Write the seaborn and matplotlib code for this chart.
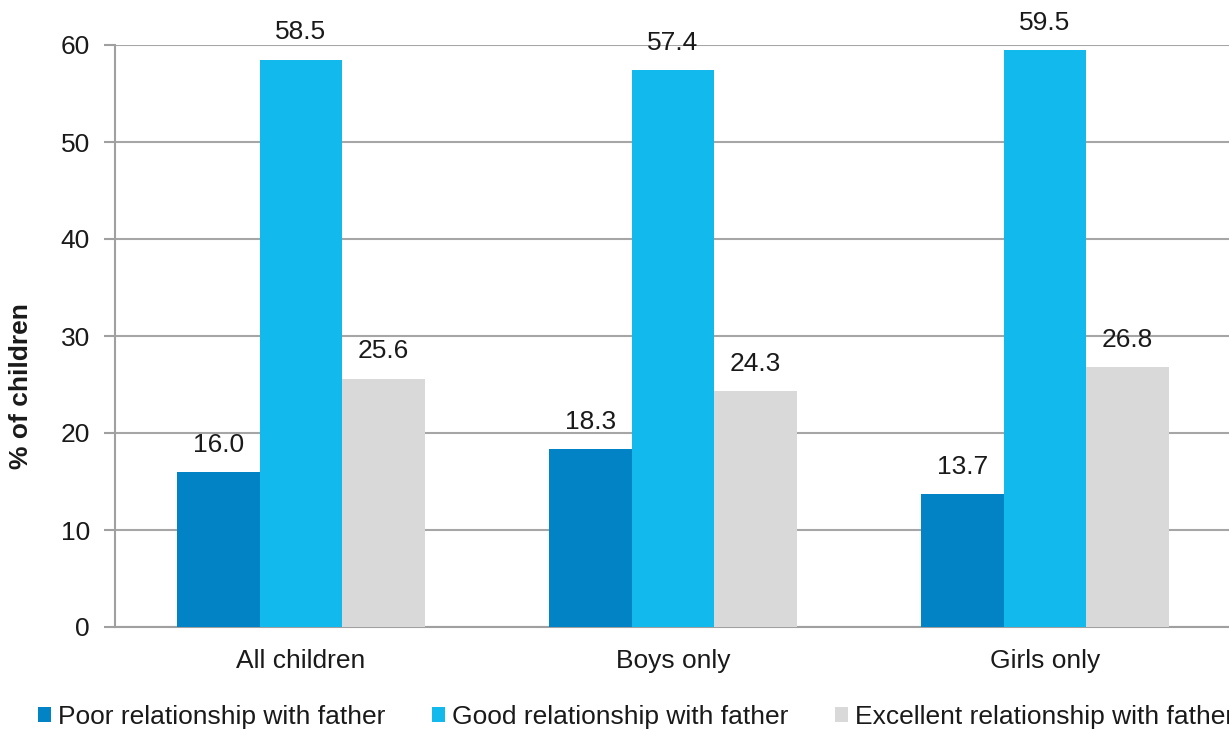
import pandas as pd
import matplotlib
matplotlib.use('Agg')
import matplotlib.pyplot as plt
import seaborn as sns
from matplotlib.patches import Patch

# data
groups = ['All children', 'Boys only', 'Girls only']
series = ['Poor relationship with father', 'Good relationship with father',
          'Excellent relationship with father']
poor = [16.0, 18.3, 13.7]
good = [58.5, 57.4, 59.5]
excellent = [25.6, 24.3, 26.8]
colors = ['#0283C6', '#11B9EC', '#D9D9D9']

rows = []
for name, vals in zip(series, [poor, good, excellent]):
    for g, v in zip(groups, vals):
        rows.append({'group': g, 'series': name, 'value': v})
df = pd.DataFrame(rows)

sns.set_style('white')
plt.rcParams['font.family'] = ['Liberation Sans', 'DejaVu Sans']
fs = 19

fig = plt.figure(figsize=(12.29, 7.29), dpi=100)
ax = fig.add_axes([115 / 1229, 102 / 729, 1116 / 1229, 582 / 729])

sns.barplot(data=df, x='group', y='value', hue='series', order=groups,
            hue_order=series, palette=colors, width=0.667, gap=0,
            saturation=1, errorbar=None, legend=False, ax=ax, zorder=3,
            linewidth=0)

for cont in ax.containers:
    ax.bar_label(cont, fmt='%.1f', padding=11, fontsize=fs, color='#1a1a1a')

ax.set_ylim(0, 60)
ax.set_yticks(range(0, 61, 10))
ax.set_xlim(-0.5, 2.5)
ax.yaxis.grid(True, color='#A6A6A6', linewidth=1.5, zorder=0)
ax.set_axisbelow(True)

for s in ['top', 'right']:
    ax.spines[s].set_visible(False)
for s in ['left', 'bottom']:
    ax.spines[s].set_color('#A0A0A0')
    ax.spines[s].set_linewidth(1.5)

# category boundary ticks on x axis
ax.set_xticks([-0.5, 0.5, 1.5, 2.5], minor=False)
ax.set_xticklabels([])
ax.set_xticks([0, 1, 2], minor=True)
ax.set_xticklabels(groups, minor=True)
ax.tick_params(axis='x', which='major', length=8, width=1.5, color='#A0A0A0', direction='out')
ax.tick_params(axis='x', which='minor', length=0, labelsize=fs, pad=16, labelcolor='#1a1a1a')
ax.tick_params(axis='y', length=8, width=1.5, color='#A0A0A0', labelsize=fs,
               pad=10, labelcolor='#1a1a1a', left=True)
ax.set_xlabel('')
ax.set_ylabel('% of children', fontsize=fs, fontweight='bold', color='#1a1a1a')
ax.yaxis.set_label_coords(-0.0735, 0.414)

handles = [Patch(facecolor=c, edgecolor='none') for c in colors]
fig.legend(handles, series, loc='center left', bbox_to_anchor=(38 / 1229, 12 / 729),
           ncol=3, frameon=False, fontsize=fs, handlelength=0.5, handleheight=0.5,
           handletextpad=0.27, columnspacing=1.75, borderpad=0, borderaxespad=0,
           labelcolor='#1a1a1a')

fig.savefig('out.png', dpi=100)
